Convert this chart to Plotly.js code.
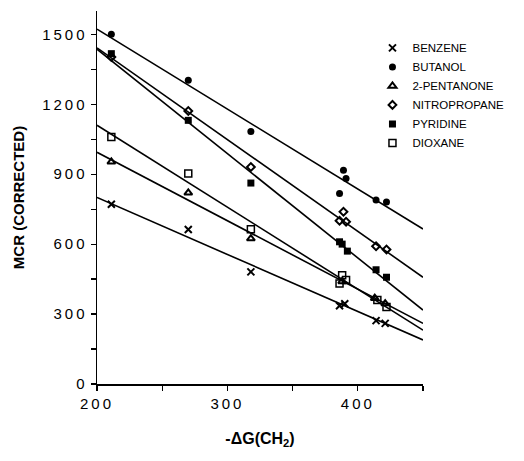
<!DOCTYPE html>
<html>
<head>
<meta charset="utf-8">
<script src="https://cdn.plot.ly/plotly-3.0.1.min.js"></script>
<style>
  html, body { margin: 0; padding: 0; background: #fff; }
  #chart { width: 524px; height: 461px; }
  .xtick text, .ytick text { letter-spacing: 3px; }
</style>
</head>
<body>
<div id="chart"></div>
<script>
// ---- data ----
const seriesNames = ["BENZENE", "BUTANOL", "2-PENTANONE", "NITROPROPANE", "PYRIDINE", "DIOXANE"];

const benzeneX = [211, 270, 318, 386, 390, 414, 421];
const benzeneY = [771, 663, 481, 336, 344, 272, 260];

const butanolX = [211, 270, 318, 386, 389, 391, 414, 422];
const butanolY = [1500, 1303, 1083, 817, 917, 881, 789, 781];

const pentanoneX = [211, 270, 318, 388, 413, 421];
const pentanoneY = [953, 820, 624, 440, 368, 345];

const nitroX = [211, 270, 318, 386, 389, 391, 414, 422];
const nitroY = [1403, 1171, 931, 700, 739, 696, 591, 577];

const pyridineX = [211, 270, 318, 386, 388, 392, 414, 422];
const pyridineY = [1417, 1131, 862, 610, 600, 570, 490, 458];

const dioxaneX = [211, 270, 318, 386, 388, 391, 415, 422];
const dioxaneY = [1060, 903, 664, 431, 467, 446, 360, 330];

// fitted lines (values at the two ends of the x range)
const fitX = [200, 450];
const benzeneFit = [800, 189];
const butanolFit = [1522, 665];
const pentanoneFit = [994, 260];
const nitroFit = [1442, 458];
const pyridineFit = [1436, 317];
const dioxaneFit = [1110, 231];

const xTickVals = [200, 300, 400];
const yTickVals = [0, 300, 600, 900, 1200, 1500];

// ---- styling ----
const markerStyles = [
  {symbol: "x-thin-open", size: 7, color: "#000", line: {color: "#000", width: 2}},
  {symbol: "circle", size: 7, color: "#000"},
  {symbol: "triangle-up-open", size: 7, color: "#000", line: {color: "#000", width: 2}},
  {symbol: "diamond-open", size: 6, color: "#000", line: {color: "#000", width: 2}},
  {symbol: "square", size: 7, color: "#000"},
  {symbol: "square-open", size: 7, color: "#000", line: {color: "#000", width: 1.5}}
];

const pts = [
  [benzeneX, benzeneY], [butanolX, butanolY], [pentanoneX, pentanoneY],
  [nitroX, nitroY], [pyridineX, pyridineY], [dioxaneX, dioxaneY]
];
const fits = [benzeneFit, butanolFit, pentanoneFit, nitroFit, pyridineFit, dioxaneFit];

const traces = [];
fits.forEach(f => {
  traces.push({
    x: fitX, y: f, mode: "lines", type: "scatter", showlegend: false,
    line: {color: "#000", width: 1.6}, hoverinfo: "skip"
  });
});
pts.forEach((p, i) => {
  traces.push({
    x: p[0], y: p[1], mode: "markers", type: "scatter",
    name: seriesNames[i], marker: markerStyles[i], cliponaxis: false
  });
});

const font = "Liberation Sans, Arial, Helvetica, sans-serif";

const layout = {
  width: 524, height: 461,
  margin: {l: 97, r: 101, t: 11, b: 77},
  paper_bgcolor: "#fff", plot_bgcolor: "#fff",
  font: {family: font, color: "#000"},
  showlegend: true,
  legend: {
    x: 0.845, xanchor: "left", y: 0.94, yanchor: "top",
    bgcolor: "rgba(0,0,0,0)", font: {size: 11.5, family: font, color: "#000"},
    tracegroupgap: 0
  },
  xaxis: {
    range: [200, 450], showgrid: false, zeroline: false,
    showline: true, linecolor: "#000", linewidth: 1.5,
    tickmode: "array", tickvals: xTickVals, ticktext: xTickVals.map(String),
    ticks: "outside", ticklen: 5, tickwidth: 1.2, tickcolor: "#000",
    minor: {dtick: 50, tick0: 200, ticks: "outside", ticklen: 5, tickwidth: 1.2, tickcolor: "#000"},
    tickfont: {size: 15, family: font},
    title: {text: "<b>-ΔG(CH<sub>2</sub>)</b>", font: {size: 16, family: font}, standoff: 22}
  },
  yaxis: {
    range: [0, 1600], showgrid: false, zeroline: false,
    showline: true, linecolor: "#000", linewidth: 1.5,
    tickmode: "array", tickvals: yTickVals, ticktext: yTickVals.map(String),
    ticks: "outside", ticklen: 5, tickwidth: 1.2, tickcolor: "#000",
    minor: {dtick: 150, tick0: 0, ticks: "outside", ticklen: 5, tickwidth: 1.2, tickcolor: "#000"},
    tickfont: {size: 15, family: font},
    title: {text: "<b>MCR (CORRECTED)</b>", font: {size: 15, family: font}, standoff: 14}
  }
};

Plotly.newPlot("chart", traces, layout, {displayModeBar: false, staticPlot: true});
</script>
</body>
</html>
